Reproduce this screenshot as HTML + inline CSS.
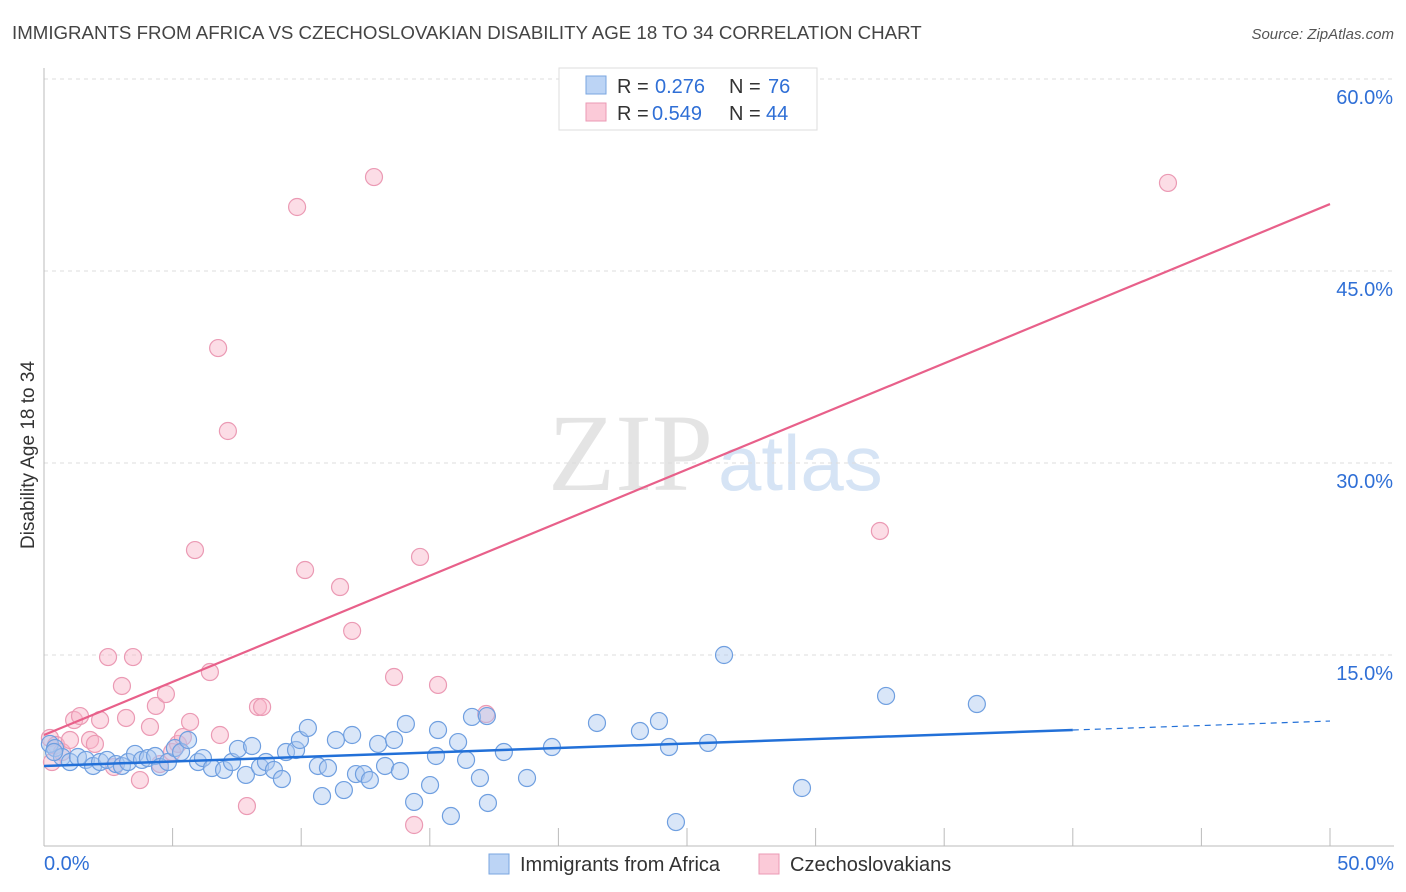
<!DOCTYPE html>
<html><head><meta charset="utf-8"><style>
body{margin:0;background:#fff;font-family:"Liberation Sans",sans-serif;}
svg{display:block}
</style></head><body>
<svg id="chart" width="1406" height="892">
<text x="12" y="39" font-size="18.7" fill="#444">IMMIGRANTS FROM AFRICA VS CZECHOSLOVAKIAN DISABILITY AGE 18 TO 34 CORRELATION CHART</text>
<text x="1394" y="39" font-size="15" fill="#555" font-style="italic" text-anchor="end">Source: ZipAtlas.com</text>
<text x="713" y="490" font-size="110" fill="#e4e4e4" font-family="Liberation Serif" text-anchor="end">ZIP</text>
<text x="718" y="490" font-size="78" fill="#d6e4f5">atlas</text>
<g id="grid"></g>
<g id="axes"></g>
<g id="pts"></g>
<g id="lines"></g>
<text transform="translate(34,455) rotate(-90)" font-size="19" fill="#333" text-anchor="middle">Disability Age 18 to 34</text>
<g>
<rect x="559" y="68" width="258" height="62" fill="#fff" stroke="#ddd"/>
<rect x="586" y="76" width="20" height="18" fill="#bcd4f5" stroke="#7aa6e0"/>
<rect x="586" y="103" width="20" height="18" fill="#fbcad8" stroke="#eb9ab4"/>
<text y="93" font-size="20" fill="#333"><tspan x="617">R =</tspan><tspan x="655" fill="#2f6fd6">0.276</tspan><tspan x="729">N =</tspan><tspan x="768" fill="#2f6fd6">76</tspan></text>
<text y="120" font-size="20" fill="#333"><tspan x="617">R =</tspan><tspan x="652" fill="#2f6fd6">0.549</tspan><tspan x="729">N =</tspan><tspan x="766" fill="#2f6fd6">44</tspan></text>
</g>
<g>
<rect x="489" y="854" width="20" height="20" fill="#bcd4f5" stroke="#7aa6e0"/>
<text x="520" y="871" font-size="20" fill="#333">Immigrants from Africa</text>
<rect x="759" y="854" width="20" height="20" fill="#fbcad8" stroke="#eb9ab4"/>
<text x="790" y="871" font-size="20" fill="#333">Czechoslovakians</text>
</g>
</svg>
<script>
const blueX=[0.23,0.43,0.70,1.01,1.32,1.63,1.91,2.18,2.45,2.80,3.03,3.27,3.54,3.81,4.04,4.32,4.51,4.82,5.09,5.33,5.60,5.99,6.18,6.53,7.00,7.31,7.54,7.85,8.09,8.40,8.63,8.94,9.25,9.41,9.80,9.95,10.26,10.65,10.81,11.04,11.35,11.66,11.98,12.13,12.44,12.67,12.99,13.26,13.61,13.84,14.07,14.39,15.01,15.32,15.24,15.82,16.10,16.41,16.64,16.95,17.22,17.26,17.88,18.78,19.75,21.50,23.17,23.91,24.30,24.57,25.82,26.44,29.47,32.74,36.27,0.39];
const blueY=[8.05,7.73,7.03,6.64,7.03,6.80,6.33,6.64,6.80,6.48,6.33,6.64,7.27,6.80,6.95,7.11,6.25,6.64,7.73,7.42,8.36,6.64,6.95,6.17,6.02,6.64,7.66,5.63,7.89,6.25,6.64,6.02,5.31,7.42,7.58,8.36,9.30,6.33,3.98,6.17,8.36,4.45,8.75,5.70,5.70,5.23,8.05,6.33,8.36,5.94,9.61,3.52,4.84,9.14,7.11,2.42,8.20,6.80,10.16,5.39,10.23,3.44,7.42,5.39,7.81,9.69,9.06,9.84,7.81,1.95,8.13,15.0,4.61,11.80,11.17,7.42];
const pinkX=[0.23,0.31,0.47,0.70,1.01,1.17,1.40,1.79,1.98,2.18,2.49,2.72,3.03,3.19,3.46,3.73,4.12,4.35,4.51,4.74,4.98,5.21,5.40,5.68,5.87,6.45,6.77,6.84,7.15,7.89,8.32,8.48,9.84,10.15,11.51,11.98,12.83,13.61,14.39,14.62,15.32,17.19,32.50,43.70];
const pinkY=[8.52,6.64,7.97,7.42,8.36,9.92,10.23,8.36,8.05,9.92,14.84,6.25,12.58,10.08,14.84,5.23,9.38,11.02,6.48,11.95,7.42,8.05,8.59,9.77,23.2,13.67,38.98,8.75,32.5,3.20,10.94,10.94,50.0,21.64,20.31,16.88,52.34,13.28,1.72,22.66,12.66,10.39,24.69,51.88];
const yTicks=[15,30,45,60];
const yTickLabels=["15.0%","30.0%","45.0%","60.0%"];
const xTicks=[5,10,15,20,25,30,35,40,45,50];
const blueTrend=[6.33,9.84];
const blueSolidEnd=40;
const pinkTrend=[8.75,50.23];
const NS="http://www.w3.org/2000/svg";
const X=v=>44+v/50*1286;
const Y=v=>847-v/15*192;
function mk(tag,attrs,parent){const e=document.createElementNS(NS,tag);for(const k in attrs)e.setAttribute(k,attrs[k]);document.getElementById(parent).appendChild(e);return e;}
yTicks.forEach((t,i)=>{
 const g=mk('line',{x1:44,x2:1394,y1:Y(t),y2:Y(t),stroke:'#ddd','stroke-dasharray':'4,4'},'grid');
 
 
 const l=mk('text',{x:1393,y:Y(t)+25,'font-size':20,fill:'#2f6fd6','text-anchor':'end'},'grid');
 l.textContent=yTickLabels[i];
 
 
});
let a=mk('line',{x1:44,x2:44,y1:68,y2:846,stroke:'#bbb'},'axes');


a=mk('line',{x1:44,x2:1394,y1:846,y2:846,stroke:'#bbb'},'axes');


xTicks.forEach(t=>{
 const e=mk('line',{x1:X(t),x2:X(t),y1:828,y2:846,stroke:'#bbb'},'axes');
 
 
});
let t0=mk('text',{x:44,y:870,'font-size':20,fill:'#2f6fd6'},'axes');t0.textContent='0.0%';


let t1=mk('text',{x:1394,y:870,'font-size':20,fill:'#2f6fd6','text-anchor':'end'},'axes');t1.textContent='50.0%';


pinkX.forEach((x,i)=>{
 const c=mk('circle',{cx:X(x),cy:Y(pinkY[i]),r:8.5,fill:'rgba(248,180,200,0.45)',stroke:'#eb9ab4','stroke-width':1.2},'pts');
 
 
});
blueX.forEach((x,i)=>{
 const c=mk('circle',{cx:X(x),cy:Y(blueY[i]),r:8.5,fill:'rgba(170,200,240,0.45)',stroke:'#6f9fe0','stroke-width':1.2},'pts');
 
 
});
const bAt=v=>blueTrend[0]+(blueTrend[1]-blueTrend[0])*v/50;
let l=mk('line',{x1:X(0),y1:Y(blueTrend[0]),x2:X(blueSolidEnd),y2:Y(bAt(blueSolidEnd)),stroke:'#2270d8','stroke-width':2.5},'lines');


l=mk('line',{x1:X(blueSolidEnd),y1:Y(bAt(blueSolidEnd)),x2:X(50),y2:Y(blueTrend[1]),stroke:'#2270d8','stroke-width':1.2,'stroke-dasharray':'6,5'},'lines');


l=mk('line',{x1:X(0),y1:Y(pinkTrend[0]),x2:X(50),y2:Y(pinkTrend[1]),stroke:'#e8608a','stroke-width':2.2},'lines');


</script>
</body></html>
